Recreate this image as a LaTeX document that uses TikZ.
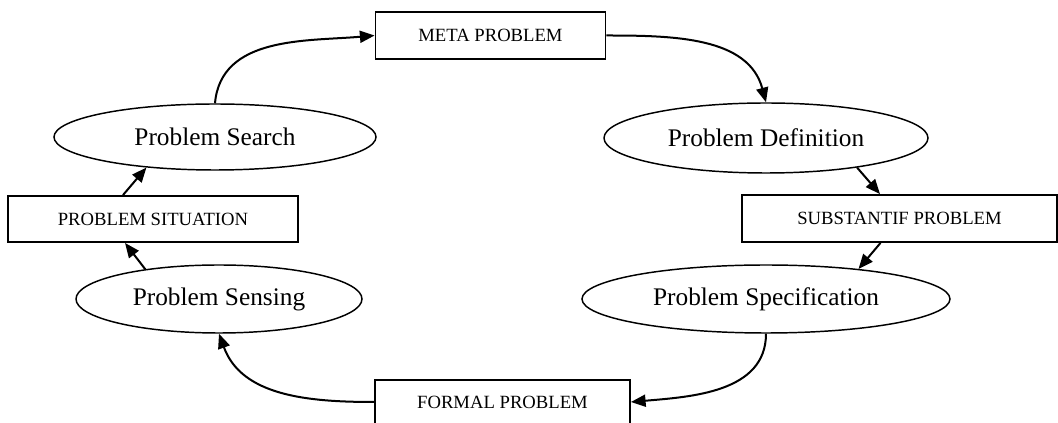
\documentclass[tikz,border=0pt]{standalone}
\usepackage{fontspec}
\setmainfont{Liberation Serif}
\usetikzlibrary{shapes.geometric,arrows.meta}
\newlength\pu
\setlength\pu{0.75pt}
\begin{document}
\begin{tikzpicture}[x=0.75pt,y=-0.75pt,
  ovalnode/.style={draw,line width=1.1pt,ellipse,inner sep=0pt,font=\fontsize{19}{22}\selectfont},
  boxnode/.style={draw,line width=1.4pt,rectangle,inner sep=0pt,font=\fontsize{14}{16}\selectfont},
  conn/.style={line width=1.5pt,-{Triangle[length=11pt,width=9pt]}}]
\clip (0,0) rectangle (1058,423);
\useasboundingbox (0,0) rectangle (1058,423);
% nodes
\node[boxnode,minimum width=230\pu,minimum height=47\pu] (meta) at (490.5,35.5) {META PROBLEM};
\node[ovalnode,minimum width=322\pu,minimum height=66\pu] (search) at (215,137) {Problem Search};
\node[ovalnode,minimum width=324\pu,minimum height=70\pu] (def) at (766,138) {Problem Definition};
\node[boxnode,minimum width=290\pu,minimum height=46\pu] (sit) at (153,219) {PROBLEM SITUATION};
\node[boxnode,minimum width=315\pu,minimum height=47\pu] (subst) at (899.5,218.5) {SUBSTANTIF PROBLEM};
\node[ovalnode,minimum width=286\pu,minimum height=68\pu] (sens) at (219,299) {Problem Sensing};
\node[ovalnode,minimum width=368\pu,minimum height=68\pu] (spec) at (766,299) {Problem Specification};
\node[boxnode,minimum width=255\pu,minimum height=44\pu] (formal) at (502.5,402) {FORMAL PROBLEM};
% connectors
\draw[conn] (search.north) to[out=85,in=185] (meta.west);
\draw[conn] (meta.east) to[out=0,in=105] (def.north);
\draw[conn] (def.-18) -- ([xshift=-19.5\pu]subst.north);
\draw[conn] ([xshift=-19\pu]subst.south) -- (spec.18);
\draw[conn] (spec.south) to[out=-90,in=5] (formal.east);
\draw[conn] (formal.west) to[out=180,in=-70] (sens.south);
\draw[conn] (sens.158) -- ([xshift=-28\pu]sit.south);
\draw[conn] ([xshift=-30\pu]sit.north) -- (search.204);
\end{tikzpicture}
\end{document}
